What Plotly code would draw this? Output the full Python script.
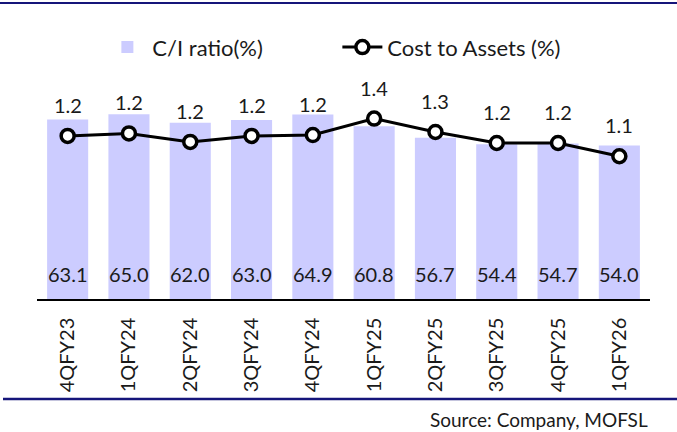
import plotly.graph_objects as go

categories = ["4QFY23", "1QFY24", "2QFY24", "3QFY24", "4QFY24",
              "1QFY25", "2QFY25", "3QFY25", "4QFY25", "1QFY26"]
ci_ratio = [63.1, 65.0, 62.0, 63.0, 64.9, 60.8, 56.7, 54.4, 54.7, 54.0]
cost_to_assets = [1.229, 1.248, 1.184, 1.229, 1.236, 1.360, 1.259, 1.176, 1.176, 1.076]

FONT = "Lato"
fig = go.Figure()
fig.add_trace(go.Bar(
    x=categories, y=ci_ratio, name="C/I ratio(%)",
    marker=dict(color="#CCCCFF", line=dict(width=0)),
    yaxis="y",
))
fig.add_trace(go.Scatter(
    x=categories, y=cost_to_assets, name="Cost to Assets (%)",
    mode="lines+markers",
    line=dict(color="black", width=3),
    marker=dict(symbol="circle", size=13, color="white",
                line=dict(color="black", width=3.5)),
    yaxis="y2",
))

annotations = []
for c, v in zip(categories, ci_ratio):
    annotations.append(dict(x=c, y=0, xref="x", yref="y", text=f"{v:.1f}",
                            showarrow=False, yshift=25,
                            font=dict(family=FONT, size=20, color="#1a1a1a")))
for c, v in zip(categories, cost_to_assets):
    annotations.append(dict(x=c, y=v, xref="x", yref="y2", text=f"{v:.1f}",
                            showarrow=False, yshift=31,
                            font=dict(family=FONT, size=20, color="#1a1a1a")))
annotations.append(dict(x=1.0, y=(299 - 419) / 199, xref="paper", yref="paper",
                        text="Source: Company, MOFSL",
                        showarrow=False, xanchor="right", yanchor="middle",
                        font=dict(family=FONT, size=19, color="#1a1a1a")))

fig.update_layout(
    width=677, height=432,
    margin=dict(l=37, r=27, t=100, b=133),
    paper_bgcolor="white", plot_bgcolor="white",
    bargap=0.33,
    showlegend=True,
    legend=dict(orientation="h", x=0.49, xanchor="center", y=1.265, yanchor="middle",
                font=dict(family=FONT, size=22, color="#1a1a1a"),
                itemwidth=40, entrywidth=180, traceorder="normal"),
    xaxis=dict(showline=True, linecolor="black", linewidth=1.5, ticks="",
               range=[-0.5, len(categories) - 0.5], autorange=False,
               tickangle=-90, ticklabelstandoff=9,
               tickfont=dict(family=FONT, size=20, color="#1a1a1a"),
               showgrid=False),
    yaxis=dict(range=[0, 70], visible=False, showgrid=False),
    yaxis2=dict(range=[0, 1.5], overlaying="y", visible=False, showgrid=False),
    annotations=annotations,
    shapes=[
        dict(type="line", xref="paper", yref="paper", x0=-37/613, x1=(677-37)/613,
             y0=(299-3)/199, y1=(299-3)/199, line=dict(color="#15157a", width=2)),
        dict(type="line", xref="paper", yref="paper", x0=-34/613, x1=(677-37)/613,
             y0=(299-399)/199, y1=(299-399)/199, line=dict(color="#15157a", width=2.5)),
    ],
)

fig.write_html("out.html", config={"displayModeBar": False},
               post_script="document.body.style.margin='0';document.body.style.padding='0';")
